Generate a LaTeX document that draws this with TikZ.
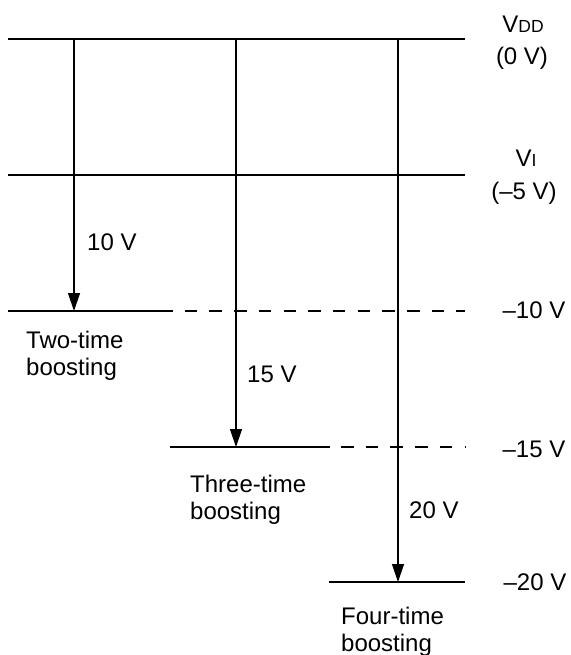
\documentclass[tikz,border=0pt]{standalone}
\usepackage{fontspec}
\setmainfont{Liberation Sans}
\usetikzlibrary{arrows.meta}
\begin{document}
\begin{tikzpicture}[x=1pt,y=-1pt,
  lvl/.style={line width=1.3pt},
  dsh/.style={line width=1.3pt, dash pattern=on 12.5pt off 12.2pt},
  arr/.style={line width=1.3pt,-{Triangle[length=18pt,width=12pt]}},
  lbl/.style={font=\fontsize{24}{27}\selectfont, inner sep=0pt}
  ]
\useasboundingbox (0,0) rectangle (570,655);
% level lines
\coordinate (d0) at (8,39);   \coordinate (d1) at (465,39);
\coordinate (i0) at (8,175);  \coordinate (i1) at (465,175);
\coordinate (t0) at (8,311);  \coordinate (t1) at (160,311); \coordinate (t2) at (465,311);
\coordinate (h0) at (170,447); \coordinate (h1) at (330,447);
\coordinate (h2) at (341,447); \coordinate (h3) at (465,447);
\coordinate (f0) at (329,582); \coordinate (f1) at (465,582);
\draw[lvl] (d0) -- (d1);
\draw[lvl] (i0) -- (i1);
\draw[lvl] (t0) -- (t1);
\draw[dsh] (t1) -- (t2);
\draw[lvl] (h0) -- (h1);
\draw[dsh] (h2) -- (h3);
\draw[lvl] (f0) -- (f1);
% arrows
\coordinate (a1s) at (74,39);  \coordinate (a1e) at (74,311);
\coordinate (a2s) at (236,39); \coordinate (a2e) at (236,447);
\coordinate (a3s) at (398,39); \coordinate (a3e) at (398,582);
\draw[arr] (a1s) -- (a1e);
\draw[arr] (a2s) -- (a2e);
\draw[arr] (a3s) -- (a3e);
% right labels
\node[lbl, anchor=base] (vdd) at (523,33) {V{\fontsize{17.5}{17.5}\selectfont DD}};
\node[lbl, anchor=base] (v0) at (522,65) {(0 V)};
\node[lbl, anchor=base] (vi) at (526,167) {V{\fontsize{17.5}{17.5}\selectfont I}};
\node[lbl, anchor=base] (v5) at (524,199) {(–5 V)};
\node[lbl, anchor=base] (v10) at (534,318) {–10 V};
\node[lbl, anchor=base] (v15) at (534,457) {–15 V};
\node[lbl, anchor=base] (v20) at (535,590) {–20 V};
% arrow labels
\node[lbl, anchor=base west] (l10) at (87,250) {10 V};
\node[lbl, anchor=base west] (l15) at (247,382) {15 V};
\node[lbl, anchor=base west] (l20) at (409,518) {20 V};
% boosting labels (base = last line's baseline)
\node[lbl, anchor=base west, align=left] (b2) at (26,375) {Two-time\\boosting};
\node[lbl, anchor=base west, align=left] (b3) at (190,519) {Three-time\\boosting};
\node[lbl, anchor=base west, align=left] (b4) at (341,651) {Four-time\\boosting};
\end{tikzpicture}
\end{document}
